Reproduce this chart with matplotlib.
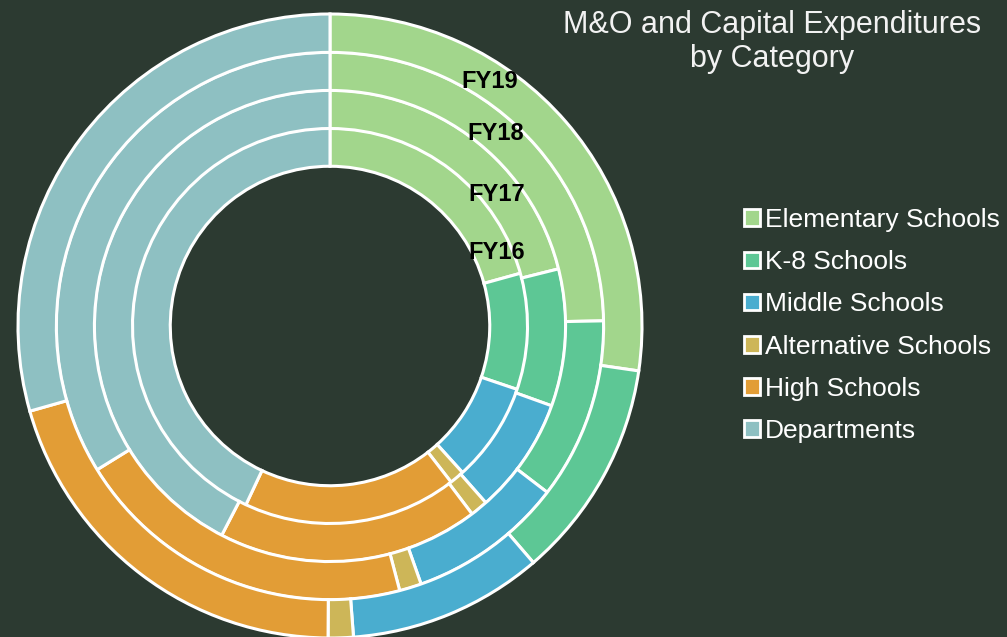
import matplotlib.pyplot as plt
from matplotlib.patches import Patch
import numpy as np

# data (share of total, %)
categories = ["Elementary Schools", "K-8 Schools", "Middle Schools",
              "Alternative Schools", "High Schools", "Departments"]
years = ["FY16", "FY17", "FY18", "FY19"]
fy16 = [20.7, 9.5, 8.1, 1.2, 17.5, 43.0]
fy17 = [21.1, 9.4, 8.0, 1.2, 17.9, 42.4]
fy18 = [24.7, 10.7, 9.2, 1.3, 20.3, 33.8]
fy19 = [27.3, 11.4, 10.1, 1.3, 20.5, 29.4]

colors = ["#A2D68C", "#5DC795", "#4AADCF", "#CDB658", "#E29D36", "#8EC0C2"]
bg = "#2C3A31"

plt.rcParams["font.family"] = ["Liberation Sans", "DejaVu Sans"]

fig = plt.figure(figsize=(10.07, 6.37), dpi=100, facecolor=bg)
W, H = 1007, 637
cx, cy, R = 330, 326, 312
ax = fig.add_axes([(cx - R) / W, (H - cy - R) / H, 2 * R / W, 2 * R / H])
ax.set_facecolor(bg)

ring_w = 0.123
radii = [0.635, 0.756, 0.878, 1.0]
for vals, r in zip([fy16, fy17, fy18, fy19], radii):
    ax.pie(vals, radius=r, colors=colors, startangle=90, counterclock=False,
           wedgeprops=dict(width=ring_w, edgecolor="white", linewidth=2.2))

# year labels sit on each ring (positions in axes units around the centre)
label_x = [0.533, 0.533, 0.531, 0.512]
label_r = [0.583, 0.680, 0.813, 0.937]
for yr, x, r in zip(years, label_x, label_r):
    ax.text(x, np.sqrt(r**2 - x**2), yr, ha="center", va="center",
            fontsize=17, fontweight="bold", color="black")

ax.set_xlim(-1, 1)
ax.set_ylim(-1, 1)
ax.set_aspect("equal")
ax.axis("off")

fig.text(772 / W, 1 - 42 / H, "M&O and Capital Expenditures\nby Category",
         ha="center", va="center", fontsize=22, color="#F2F2F2", linespacing=1.2)

handles = [Patch(facecolor=c, edgecolor="white", linewidth=2) for c in colors]
fig.legend(handles, categories, loc="upper left", bbox_to_anchor=(744 / W, 1 - 208 / H),
           frameon=False, fontsize=19, labelcolor="white", handlelength=0.6,
           handleheight=0.6, handletextpad=0.2, labelspacing=0.69, borderpad=0,
           borderaxespad=0)

fig.savefig("out.png", dpi=100, facecolor=bg)
